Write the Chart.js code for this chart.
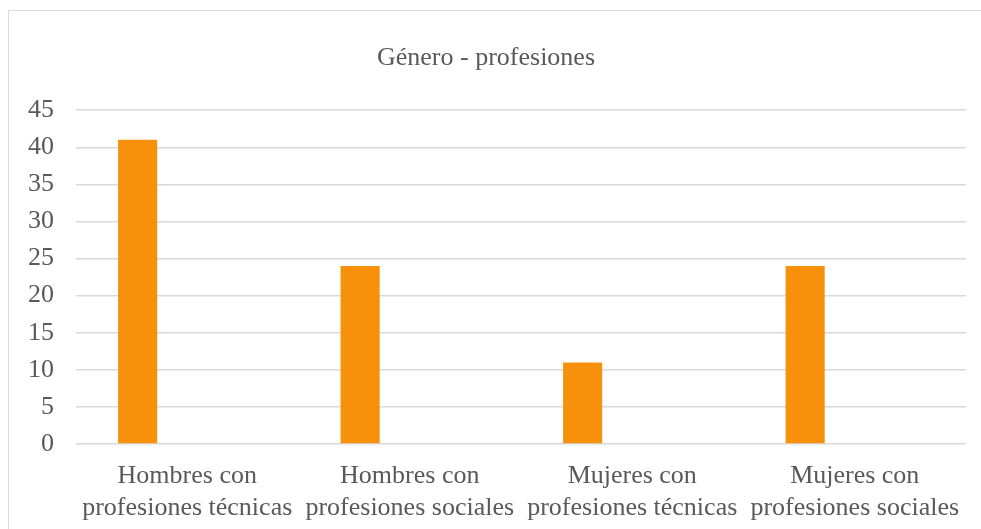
<!DOCTYPE html>
<html>
<head>
<meta charset="utf-8">
<script src="https://cdn.jsdelivr.net/npm/chart.js@4"></script>
<style>
  html, body { margin: 0; padding: 0; background: #ffffff; }
  #wrap { position: relative; width: 981px; height: 529px; overflow: hidden; }
  #frame { position: absolute; left: 8px; top: 10px; width: 1000px; height: 600px; border: 1.5px solid #d9d9d9; box-sizing: border-box; }
  #chart { position: absolute; left: 0; top: 0; }
</style>
</head>
<body>
<div id="wrap">
  <div id="frame"></div>
  <canvas id="chart" width="981" height="529"></canvas>
</div>
<script>
//Categories on the x axis (two lines each)
const categories = [
  ["Hombres con", "profesiones técnicas"],
  ["Hombres con", "profesiones sociales"],
  ["Mujeres con", "profesiones técnicas"],
  ["Mujeres con", "profesiones sociales"]
];
//Values
const values = [41, 24, 11, 24];
//Empty second series (keeps the bars to the left of each slot, like the original)
const emptySeries = [null, null, null, null];
const yTicks = [0, 5, 10, 15, 20, 25, 30, 35, 40, 45];

const ctx = document.getElementById("chart");
let myChart = new Chart(ctx, {
  type: "bar",
  data: {
    labels: categories,
    datasets: [
      {
        label: "Género - profesiones",
        data: values,
        backgroundColor: "#f7900a",
        categoryPercentage: 0.892,
        barPercentage: 0.394,
      },
      {
        label: "",
        data: emptySeries,
        backgroundColor: "rgba(0,0,0,0)",
        categoryPercentage: 0.892,
        barPercentage: 0.394,
      },
    ],
  },
  options: {
    responsive: false,
    animation: { duration: 0 },
    layout: { padding: { left: 6, right: 15, top: 43, bottom: -3 } },
    plugins: {
      legend: { display: false },
      tooltip: { enabled: false },
      title: {
        display: true,
        text: "Género - profesiones",
        color: "#595959",
        font: { family: "Liberation Serif", size: 26, weight: "normal" },
        padding: { top: 0, bottom: 36 },
      },
    },
    scales: {
      x: {
        grid: { display: false },
        border: { display: false },
        ticks: {
          color: "#595959",
          font: { family: "Liberation Serif", size: 26, lineHeight: 1.23 },
          maxRotation: 0,
          minRotation: 0,
          autoSkip: false,
          padding: 8,
        },
      },
      y: {
        min: 0,
        max: yTicks[yTicks.length - 1],
        afterBuildTicks: (axis) => {
          axis.ticks = yTicks.map((v) => ({ value: v }));
        },
        grid: { color: "#d9d9d9", lineWidth: 1.5, drawTicks: false },
        border: { display: false },
        ticks: {
          color: "#595959",
          font: { family: "Liberation Serif", size: 26 },
          padding: 22,
        },
      },
    },
  },
});
</script>
</body>
</html>
